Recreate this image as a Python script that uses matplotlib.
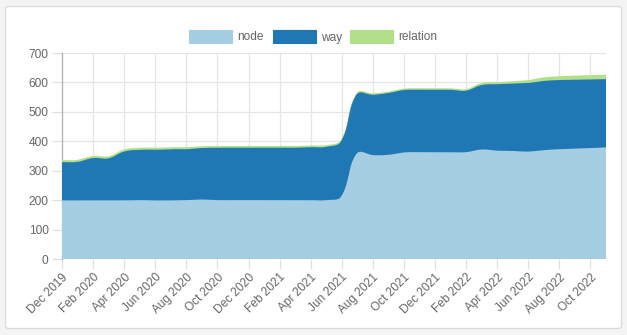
import numpy as np
import matplotlib
matplotlib.use("Agg")
import matplotlib.pyplot as plt
from matplotlib.patches import FancyBboxPatch, Rectangle

plt.rcParams["font.family"] = ["Liberation Sans", "DejaVu Sans"]

# monthly counts, Dec 2019 .. Nov 2022
months = ["Dec 2019", "Jan 2020", "Feb 2020", "Mar 2020", "Apr 2020", "May 2020",
          "Jun 2020", "Jul 2020", "Aug 2020", "Sep 2020", "Oct 2020", "Nov 2020",
          "Dec 2020", "Jan 2021", "Feb 2021", "Mar 2021", "Apr 2021", "May 2021",
          "Jun 2021", "Jul 2021", "Aug 2021", "Sep 2021", "Oct 2021", "Nov 2021",
          "Dec 2021", "Jan 2022", "Feb 2022", "Mar 2022", "Apr 2022", "May 2022",
          "Jun 2022", "Jul 2022", "Aug 2022", "Sep 2022", "Oct 2022", "Nov 2022"]
node = [196, 196, 196, 196, 196, 197, 196, 196, 197, 199, 197, 197,
        197, 197, 197, 197, 197, 197, 210, 356, 350, 351, 359, 360,
        360, 360, 360, 369, 365, 364, 362, 367, 370, 372, 374, 376]
way = [130, 131, 144, 143, 166, 171, 172, 174, 173, 175, 178, 178,
       178, 178, 178, 178, 180, 181, 188, 201, 205, 210, 212, 212,
       212, 212, 209, 219, 226, 229, 233, 235, 235, 234, 233, 232]
relation = [7, 7, 7, 7, 7, 7, 7, 7, 7, 6, 6, 6,
            6, 6, 6, 6, 6, 6, 5, 5, 5, 5, 5, 5,
            5, 5, 5, 7, 7, 8, 10, 12, 13, 14, 15, 15]

names = ["node", "way", "relation"]
cols = ["#a6cee3", "#1f78b4", "#b2df8a"]

W, H = 627, 335
L, R, T, B = 62, 606, 53, 259
YMAX = 700


def spline(y, tension=0.4):
    """Cubic bezier through the points, same control-point rule as Chart.js."""
    n = len(y)
    x = np.arange(n, dtype=float)
    y = np.asarray(y, dtype=float)
    sx = (R - L) / (n - 1)
    sy = (B - T) / YMAX
    cp_prev = np.zeros((n, 2))
    cp_next = np.zeros((n, 2))
    for i in range(n):
        p = max(i - 1, 0)
        q = min(i + 1, n - 1)
        d01 = np.hypot((x[i] - x[p]) * sx, (y[i] - y[p]) * sy)
        d12 = np.hypot((x[q] - x[i]) * sx, (y[q] - y[i]) * sy)
        tot = d01 + d12
        s01 = d01 / tot if tot else 0
        s12 = d12 / tot if tot else 0
        dx, dy = x[q] - x[p], y[q] - y[p]
        cp_prev[i] = (x[i] - tension * s01 * dx, y[i] - tension * s01 * dy)
        cp_next[i] = (x[i] + tension * s12 * dx, y[i] + tension * s12 * dy)
    t = np.linspace(0, 1, 25)[:, None]
    pts = []
    for i in range(n - 1):
        p0 = np.array([x[i], y[i]])
        p3 = np.array([x[i + 1], y[i + 1]])
        p1, p2 = cp_next[i], cp_prev[i + 1]
        seg = ((1 - t) ** 3) * p0 + 3 * ((1 - t) ** 2) * t * p1 \
            + 3 * (1 - t) * t ** 2 * p2 + t ** 3 * p3
        pts.append(seg if i == 0 else seg[1:])
    pts = np.vstack(pts)
    return pts[:, 0], pts[:, 1]


fig = plt.figure(figsize=(W / 100, H / 100), dpi=100)
fig.patch.set_facecolor("#f4f4f4")
card = FancyBboxPatch((5.5 / W, 6.5 / H), 616 / W, 322 / H,
                      boxstyle="round,pad=0,rounding_size=0.006",
                      transform=fig.transFigure, facecolor="white",
                      edgecolor="#dcdcdc", linewidth=1.0, zorder=-5)
fig.patches.append(card)

ax = fig.add_axes([L / W, 1 - B / H, (R - L) / W, (B - T) / H])
ax.set_facecolor("none")
ax.set_zorder(2)

stacks = np.cumsum([node, way, relation], axis=0)
x0, base = spline(np.zeros(len(months)))
lower = (x0, base)
curves = []
for k in range(3):
    xs, ys = spline(stacks[k])
    ax.fill(np.concatenate([xs, lower[0][::-1]]),
            np.concatenate([ys, lower[1][::-1]]),
            color=cols[k], linewidth=0, zorder=3 - k * 0.1)
    curves.append((xs, ys))
    lower = (xs, ys)
for k in range(3):
    xs, ys = curves[k]
    ax.plot(xs, ys, color=cols[k], lw=1.3, zorder=3.5 - k * 0.1,
            solid_capstyle="butt", clip_on=False)

ax.set_xlim(0, len(months) - 1)
ax.set_ylim(0, YMAX)
ax.set_yticks(np.arange(0, 701, 100))
ticks = np.arange(0, len(months), 2)
ax.set_xticks(ticks)
ax.set_xticklabels([months[i] for i in ticks], rotation=45, ha="right",
                   rotation_mode="anchor")
ax.grid(True, color="#e5e5e5", linewidth=0.9, zorder=0)
ax.set_axisbelow(True)
ax.tick_params(axis="both", colors="#e0e0e0", length=7.2, width=0.9,
               labelcolor="#666666", labelsize=8.6)
ax.tick_params(axis="y", pad=2.5)
ax.tick_params(axis="x", pad=1.5)
for s in ["top", "right", "bottom"]:
    ax.spines[s].set_visible(False)
ax.spines["left"].set_color("#b0b0b0")
ax.spines["left"].set_linewidth(0.9)

# legend row above the plot
boxes = [189, 273, 350]
ly = 36.5
for name, c, bx in zip(names, cols, boxes):
    fig.patches.append(Rectangle((bx / W, 1 - (ly + 6.5) / H), 43 / W, 13 / H,
                                 transform=fig.transFigure, facecolor=c,
                                 edgecolor=c, linewidth=0.8))
    fig.text((bx + 48) / W, 1 - (ly + 4) / H, name, color="#666666",
             fontsize=8.6, ha="left", va="baseline")

fig.savefig("out.png", dpi=100, facecolor=fig.get_facecolor())
